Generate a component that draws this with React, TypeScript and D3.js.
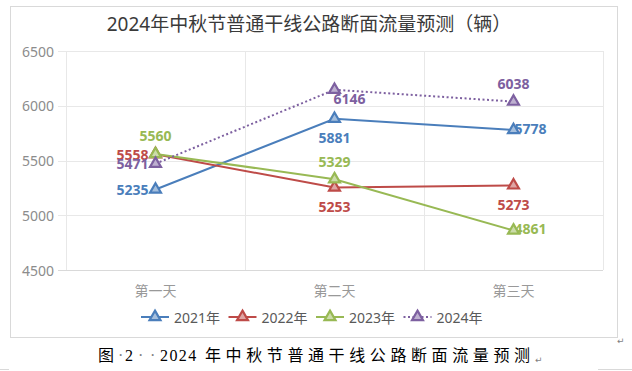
import * as d3 from "d3";

const categories = ["第一天", "第二天", "第三天"];
const seriesNames = ["2021年", "2022年", "2023年", "2024年"];
const values2021 = [5235, 5881, 5778];
const values2022 = [5558, 5253, 5273];
const values2023 = [5560, 5329, 4861];
const values2024 = [5471, 6146, 6038];
const yTicks = [4500, 5000, 5500, 6000, 6500];

const seriesValues = [values2021, values2022, values2023, values2024];
const colors = ["#4a7ebb", "#be4b48", "#98b954", "#7d60a0"];
const dashed = [false, false, false, true];
// where each data label sits relative to its point
const placements = [
  ["left", "below", "right"],
  ["left", "below", "below"],
  ["above", "above", "right"],
  ["left", "belowRight", "above"],
];

const W = 632;
const H = 371;
const plot = { left: 66, right: 603, top: 51, bottom: 270 };

const x = d3.scaleBand().domain(categories).range([plot.left, plot.right]).paddingInner(0);
const cx = (c: string) => (x(c) ?? 0) + x.bandwidth() / 2;
const y = d3.scaleLinear().domain([4500, 6500]).range([plot.bottom, plot.top]);

const tri = d3.symbol(d3.symbolTriangle, 52)() ?? "";
const lighten = (c: string) => d3.interpolateRgb(c, "#ffffff")(0.5);

const numFont = "'Noto Sans', 'DejaVu Sans', sans-serif";
const cjkFont = "'Noto Sans', 'Noto Sans CJK SC', sans-serif";

function labelProps(kind: string, px: number, py: number) {
  switch (kind) {
    case "left":
      return { x: px - 7, y: py, anchor: "end" };
    case "right":
      return { x: px + 1, y: py - 1.5, anchor: "start" };
    case "above":
      return { x: px, y: py - 18, anchor: "middle" };
    case "below":
      return { x: px, y: py + 19, anchor: "middle" };
    default:
      return { x: px - 1, y: py + 8.5, anchor: "start" };
  }
}

export default function App() {
  const line = d3
    .line<number>()
    .x((_, i) => cx(categories[i]))
    .y((d) => y(d));

  return (
    <svg
      width={W}
      height={H}
      style={{ position: "absolute", left: 0, top: 0, background: "#fff" }}
    >
      <rect x={10.5} y={6.5} width={607} height={331} fill="#fff" stroke="#d9d9d9" />

      <text
        x={309}
        y={31}
        textAnchor="middle"
        fontSize={19}
        fontFamily={cjkFont}
        fill="#3a3a3a"
      >
        2024年中秋节普通干线公路断面流量预测（辆）
      </text>

      {/* grid */}
      {yTicks.map((t) => (
        <g key={t}>
          <line
            x1={plot.left - 8}
            x2={plot.right}
            y1={Math.round(y(t)) + 0.5}
            y2={Math.round(y(t)) + 0.5}
            stroke={t === 4500 ? "#d9d9d9" : "#e8e8e8"}
          />
          <text
            x={54}
            y={y(t)}
            textAnchor="end"
            dominantBaseline="central"
            fontSize={14}
            fontFamily={numFont}
            fill="#8c8c8c"
          >
            {t}
          </text>
        </g>
      ))}
      {categories.map((c) => (
        <line
          key={c}
          x1={Math.round(x(c) ?? 0) + 0.5}
          x2={Math.round(x(c) ?? 0) + 0.5}
          y1={plot.top}
          y2={plot.bottom}
          stroke="#e8e8e8"
        />
      ))}
      <line
        x1={plot.right + 0.5}
        x2={plot.right + 0.5}
        y1={plot.top}
        y2={plot.bottom}
        stroke="#e8e8e8"
      />
      {categories.map((c) => (
        <text
          key={c}
          x={cx(c)}
          y={290}
          textAnchor="middle"
          dominantBaseline="central"
          fontSize={14}
          fontFamily={cjkFont}
          fill="#999"
        >
          {c}
        </text>
      ))}

      {/* lines */}
      {seriesValues.map((vals, s) => (
        <path
          key={s}
          d={line(vals) ?? ""}
          fill="none"
          stroke={colors[s]}
          strokeWidth={2}
          strokeDasharray={dashed[s] ? "2 2.5" : undefined}
        />
      ))}

      {/* data labels */}
      {seriesValues.map((vals, s) =>
        vals.map((v, i) => {
          const p = labelProps(placements[s][i], cx(categories[i]), y(v));
          return (
            <text
              key={`${s}-${i}`}
              x={p.x}
              y={p.y}
              textAnchor={p.anchor}
              dominantBaseline="central"
              fontSize={14}
              fontWeight="bold"
              fontFamily={numFont}
              fill={colors[s]}
            >
              {v}
            </text>
          );
        })
      )}

      {/* markers */}
      {seriesValues.map((vals, s) =>
        vals.map((v, i) => (
          <path
            key={`${s}-${i}`}
            d={tri}
            transform={`translate(${cx(categories[i])},${y(v)})`}
            fill={lighten(colors[s])}
            stroke={colors[s]}
            strokeWidth={2.2}
            strokeLinejoin="miter"
          />
        ))
      )}

      {/* legend */}
      {seriesNames.map((name, s) => {
        const lx = 141 + s * 87.5;
        const ly = 317;
        return (
          <g key={name}>
            <line
              x1={lx}
              x2={lx + 28}
              y1={ly}
              y2={ly}
              stroke={colors[s]}
              strokeWidth={2}
              strokeDasharray={dashed[s] ? "2 2.5" : undefined}
            />
            <path
              d={tri}
              transform={`translate(${lx + 14},${ly})`}
              fill={lighten(colors[s])}
              stroke={colors[s]}
              strokeWidth={2.2}
            />
            <text
              x={lx + 33}
              y={ly}
              dominantBaseline="central"
              fontSize={14}
              fontFamily={cjkFont}
              fill="#595959"
            >
              {name}
            </text>
          </g>
        );
      })}

      <text x={617} y={344} fontSize={9} fontFamily="'DejaVu Sans'" fill="#7f7f7f">
        ↵
      </text>

      {/* caption */}
      <g fontSize={16} fill="#000" fontFamily="'Liberation Serif', 'Noto Sans CJK SC', serif">
        <text x={98} y={361}>图</text>
        <text x={118} y={361} fill="#808080">·</text>
        <text x={125} y={361}>2</text>
        <text x={138} y={361} fill="#808080">·</text>
        <text x={150} y={361} fill="#808080">·</text>
        <text x={160} y={361} letterSpacing={1.4}>2024</text>
        <text x={205} y={361} letterSpacing={4.6}>年中秋节普通干线公路断面流量预测</text>
        <text x={535} y={363} fontSize={9} fontFamily="'DejaVu Sans'" fill="#7f7f7f">
          ↵
        </text>
      </g>
      <line x1={0} x2={9} y1={369.5} y2={369.5} stroke="#d9d9d9" />
      <line x1={598} x2={632} y1={369.5} y2={369.5} stroke="#d9d9d9" />
    </svg>
  );
}
